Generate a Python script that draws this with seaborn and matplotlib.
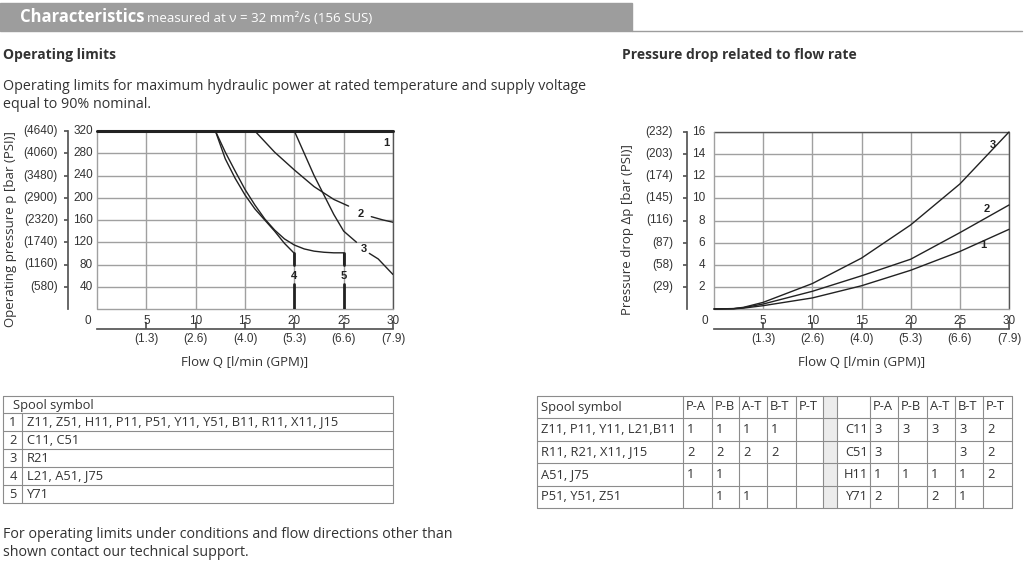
import matplotlib
matplotlib.use("Agg")
import matplotlib.pyplot as plt
import seaborn as sns
import numpy as np
from matplotlib.patches import Rectangle

sns.set_theme(style="white")
plt.rcParams['font.family'] = ['Open Sans', 'DejaVu Sans']
NARROW = ['Liberation Sans Narrow', 'Liberation Sans', 'DejaVu Sans']

# ---------------- data ----------------
x_ticks = [5, 10, 15, 20, 25, 30]
gpm_labels = ['(1.3)', '(2.6)', '(4.0)', '(5.3)', '(6.6)', '(7.9)']
left_yticks = [40, 80, 120, 160, 200, 240, 280, 320]
left_psi = ['(580)', '(1160)', '(1740)', '(2320)', '(2900)', '(3480)', '(4060)', '(4640)']
right_yticks = [2, 4, 6, 8, 10, 12, 14, 16]
right_psi = ['(29)', '(58)', '(87)', '(116)', '(145)', '(174)', '(203)', '(232)']

lim1_q = [0, 30]; lim1_p = [320, 320]
lim2a_q = [16, 18, 20, 22, 24, 25.5]; lim2a_p = [320, 282, 250, 220, 197, 185]
lim2b_q = [27.8, 29, 30]; lim2b_p = [166, 160, 156]
lim3a_q = [20, 20.5, 21, 22, 23, 24, 25, 26.3]; lim3a_p = [320, 300, 280, 240, 205, 170, 140, 120]
lim3b_q = [27.6, 28.5, 30]; lim3b_p = [100, 90, 62]
lim4_q = [12, 13, 14, 15, 16, 17, 18, 19, 20, 20]; lim4_p = [320, 270, 235, 205, 180, 160, 140, 118, 100, 80]
lim4v_q = [20, 20]; lim4v_p = [45, 0]
lim5_q = [12, 13, 14, 15, 16, 17, 18, 19, 20, 21, 22, 23, 24, 25, 25]
lim5_p = [320, 282, 248, 215, 187, 162, 142, 126, 115, 108, 104, 102, 101, 101, 80]
lim5v_q = [25, 25]; lim5v_p = [45, 0]

dp_q = [0, 2, 3, 5, 10, 15, 20, 25, 30]
dp1 = [0, 0.02, 0.08, 0.3, 1.0, 2.1, 3.5, 5.2, 7.2]
dp2 = [0, 0.03, 0.12, 0.45, 1.6, 3.0, 4.5, 6.9, 9.4]
dp3 = [0, 0.04, 0.15, 0.6, 2.3, 4.6, 7.6, 11.3, 16.0]

left_rows = [('1', 'Z11, Z51, H11, P11, P51, Y11, Y51, B11, R11, X11, J15'),
             ('2', 'C11, C51'), ('3', 'R21'), ('4', 'L21, A51, J75'), ('5', 'Y71')]
cols = ['P-A', 'P-B', 'A-T', 'B-T', 'P-T']
rt_left = [('Z11, P11, Y11, L21,B11', ['1', '1', '1', '1', '']),
           ('R11, R21, X11, J15', ['2', '2', '2', '2', '']),
           ('A51, J75', ['1', '1', '', '', '']),
           ('P51, Y51, Z51', ['', '1', '1', '', ''])]
rt_right = [('C11', ['3', '3', '3', '3', '2']),
            ('C51', ['3', '', '', '3', '2']),
            ('H11', ['1', '1', '1', '1', '2']),
            ('Y71', ['2', '', '2', '1', ''])]

W, H = 1027, 566
fig = plt.figure(figsize=(W / 100, H / 100), dpi=100)
TC = '#333333'
GRID = '#a0a0a0'

def setup(ax, ymax, yticks, psi, ylabel, spine_px, num_px, psi_px, label_x):
    ax.set_xlim(0, 30); ax.set_ylim(0, ymax)
    ax.set_xticks(x_ticks); ax.set_yticks(yticks)
    ax.grid(True, color=GRID, lw=1)
    for s in ['top', 'right']:
        ax.spines[s].set_visible(False)
    ax.spines['left'].set_position(('outward', spine_px * 0.72))
    ax.spines['bottom'].set_position(('outward', 20 * 0.72))
    ax.spines['left'].set_color('#555'); ax.spines['bottom'].set_color('#555')
    ax.tick_params(axis='y', direction='out', length=3, color='#555', left=True,
                   labelleft=False)
    ax.tick_params(axis='x', direction='in', length=5, color='#555', bottom=True, pad=3,
                   labelsize=8.5, labelcolor=TC)
    ax.set_xticklabels(gpm_labels, family=NARROW)
    for v, t, n in zip(yticks, psi, yticks):
        ax.annotate(t, (0, v), xycoords=('axes fraction', 'data'), xytext=(-psi_px, 0),
                    textcoords='offset pixels', ha='right', va='center', fontsize=8.5,
                    color=TC, family=NARROW)
        ax.annotate(str(n), (0, v), xycoords=('axes fraction', 'data'), xytext=(-num_px, 0),
                    textcoords='offset pixels', ha='right', va='center', fontsize=8.5,
                    color=TC, family=NARROW)
    for v in x_ticks:
        ax.annotate(str(v), (v, 0), xycoords='data', xytext=(0, -12), textcoords='offset pixels',
                    ha='center', va='center', fontsize=8.5, color=TC, family=NARROW)
    ax.annotate('0', (0, 0), xycoords='data', xytext=(-9, -12), textcoords='offset pixels',
                ha='center', va='center', fontsize=8.5, color=TC, family=NARROW)
    ax.plot([0, 30, 30], [ymax, ymax, 0], color='#555', lw=1, clip_on=False)
    ax.plot([0, 0, 30], [ymax, 0, 0], color=GRID, lw=1, clip_on=False)
    ax.set_xlabel('Flow Q [l/min (GPM)]', fontsize=9.5, color=TC, labelpad=8)
    ax.set_ylabel(ylabel, fontsize=9.5, color=TC)
    ax.yaxis.set_label_coords(label_x, 0.45)

# ---- left chart ----
axL = fig.add_axes([97 / W, 1 - 309 / H, 296 / W, 178 / H])
setup(axL, 320, left_yticks, left_psi, 'Operating pressure p [bar (PSI)]', 29, 4, 39, -0.27)
k = dict(color='#222', lw=1)
sns.lineplot(x=lim1_q, y=lim1_p, ax=axL, color='#222', lw=2.2, clip_on=False)
for q, p in [(lim2a_q, lim2a_p), (lim2b_q, lim2b_p), (lim3a_q, lim3a_p), (lim3b_q, lim3b_p),
             (lim4_q, lim4_p), (lim5_q, lim5_p)]:
    sns.lineplot(x=q, y=p, ax=axL, sort=False, estimator=None, **k)
for q, p in [(lim4v_q, lim4v_p), (lim5v_q, lim5v_p), ([20, 20], [100, 80]), ([25, 25], [101, 80])]:
    sns.lineplot(x=q, y=p, ax=axL, sort=False, estimator=None, color='#222', lw=2)
for t, xx, yy in [('1', 29.3, 298), ('2', 26.7, 171), ('3', 27, 108), ('4', 20, 60), ('5', 25, 60)]:
    axL.text(xx, yy, t, ha='center', va='center', fontsize=8, fontweight='bold', color='#222',
             family=NARROW)

# ---- right chart ----
axR = fig.add_axes([714 / W, 1 - 309 / H, 295 / W, 177 / H])
setup(axR, 16, right_yticks, right_psi, 'Pressure drop Δp [bar (PSI)]', 27, 9, 41, -0.27)
for d in [dp1, dp2, dp3]:
    sns.lineplot(x=dp_q, y=d, ax=axR, color='#222', lw=1, clip_on=False)
for t, xx, yy in [('1', 27.4, 5.8), ('2', 27.7, 9.0), ('3', 28.4, 14.8)]:
    axR.text(xx, yy, t, ha='center', va='center', fontsize=8, fontweight='bold', color='#222',
             family=NARROW)

# ---- overlay for header, texts, tables ----
ov = fig.add_axes([0, 0, 1, 1], zorder=-1)
ov.set_xlim(0, W); ov.set_ylim(H, 0); ov.axis('off')
ov.add_patch(Rectangle((0, 3), 632, 28, color='#9d9d9d'))
ov.plot([632, 1022], [31, 31], color='#9d9d9d', lw=1)
ov.text(20, 17, 'Characteristics', color='white', fontsize=12, fontweight='bold', va='center')
ov.text(147, 18, 'measured at ν = 32 mm²/s (156 SUS)', color='white', fontsize=9.5, va='center')
ov.text(3, 55, 'Operating limits', fontsize=10, fontweight='bold', color=TC, va='center')
ov.text(622, 55, 'Pressure drop related to flow rate', fontsize=10, fontweight='bold', color=TC, va='center')
ov.text(3, 87, 'Operating limits for maximum hydraulic power at rated temperature and supply voltage',
        fontsize=10.3, color=TC, va='center')
ov.text(3, 105, 'equal to 90% nominal.', fontsize=10.3, color=TC, va='center')
ov.text(3, 534, 'For operating limits under conditions and flow directions other than',
        fontsize=10.3, color=TC, va='center')
ov.text(3, 552, 'shown contact our technical support.', fontsize=10.3, color=TC, va='center')

BC = '#8c8c8c'
def hl(x0, x1, y): ov.plot([x0, x1], [y, y], color=BC, lw=0.8)
def vl(x, y0, y1): ov.plot([x, x], [y0, y1], color=BC, lw=0.8)

# left table
ly = [396, 413, 431, 449, 467, 485, 503]
for y in ly: hl(3, 393, y)
vl(3, 396, 503); vl(393, 396, 503); vl(22, 413, 503)
ov.text(13, 405, 'Spool symbol', fontsize=9.3, color=TC, va='center')
for i, (n, s) in enumerate(left_rows):
    yc = (ly[i + 1] + ly[i + 2]) / 2
    ov.text(13, yc, n, fontsize=9.3, color=TC, va='center', ha='center')
    ov.text(27, yc, s, fontsize=9.3, color=TC, va='center')

# right table
ry = [396, 418, 441, 463, 486, 508]
xa = [537, 683, 712, 739, 767, 796, 823]
xb = [837, 870, 898, 927, 955, 983, 1012]
ov.add_patch(Rectangle((823, 396), 14, 112, facecolor='#ececec', edgecolor='none'))
for y in ry: hl(537, 1012, y)
for x in xa + xb: vl(x, 396, 508)
ov.text(541, 407, 'Spool symbol', fontsize=9.3, color=TC, va='center')
for j, c in enumerate(cols):
    ov.text(xa[j + 1] + 3, 407, c, fontsize=9.3, color=TC, va='center')
    ov.text(xb[j + 1] + 3, 407, c, fontsize=9.3, color=TC, va='center')
for i in range(4):
    yc = (ry[i + 1] + ry[i + 2]) / 2
    name, vals = rt_left[i]
    ov.text(541, yc, name, fontsize=9.3, color=TC, va='center')
    for j, v in enumerate(vals):
        ov.text(xa[j + 1] + 4, yc, v, fontsize=9.3, color=TC, va='center')
    name, vals = rt_right[i]
    ov.text(868, yc, name, fontsize=9.3, color=TC, va='center', ha='right')
    for j, v in enumerate(vals):
        ov.text(xb[j + 1] + 4, yc, v, fontsize=9.3, color=TC, va='center')

fig.savefig('out.png', dpi=100)
